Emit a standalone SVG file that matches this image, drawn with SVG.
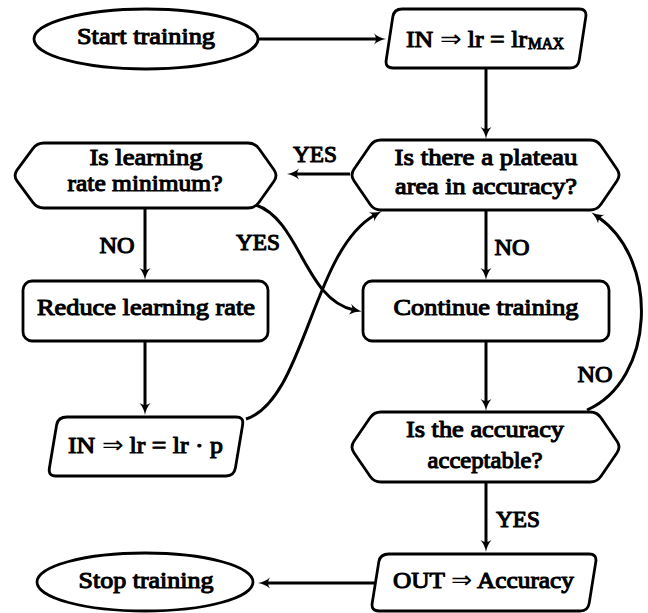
<svg xmlns="http://www.w3.org/2000/svg" width="648" height="613" viewBox="0 0 648 613">
<style>
.shape{fill:#fff;stroke:#000;stroke-width:2.8;stroke-linejoin:round}
.t{font-family:"Liberation Serif","Times New Roman",serif;font-weight:normal;font-size:24px;fill:#000;stroke:#000;stroke-width:1.1;stroke-linejoin:round;text-anchor:middle}
.s{text-anchor:start}
.lbl{font-family:"Liberation Serif","Times New Roman",serif;font-weight:normal;font-size:23px;fill:#000;stroke:#000;stroke-width:1.1;stroke-linejoin:round;text-anchor:middle}
.sym{stroke:none}
.c{fill:none;stroke:#000;stroke-width:3;marker-end:url(#ah)}
</style>
<defs>
<marker id="ah" viewBox="0 0 12 12" refX="4" refY="6" markerWidth="12" markerHeight="12" markerUnits="userSpaceOnUse" orient="auto">
<path d="M0,0.5 Q5,4.8 12,6 Q5,7.2 0,11.5 Q4,6 0,0.5 Z" fill="#000"/>
</marker>
</defs>
<rect width="648" height="613" fill="#fff"/>
<g id="connectors">
<path class="c" d="M258 39 H378"/>
<path class="c" d="M486 68 V131"/>
<path class="c" d="M350 174 H295"/>
<path class="c" d="M145 208 V272"/>
<path class="c" d="M486 210 V272"/>
<path class="c" d="M256 205 C300 220 305 300 354 310"/>
<path class="c" d="M145 341 V407"/>
<path class="c" d="M246 419 C305 400 312 250 375 215"/>
<path class="c" d="M486 341 V403"/>
<path class="c" d="M587 410 C655 380 660 260 598 217"/>
<path class="c" d="M486 482 V544"/>
<path class="c" d="M376 583 H266"/>
<text class="lbl" x="315" y="162" textLength="44" lengthAdjust="spacingAndGlyphs">YES</text>
<text class="lbl" x="117" y="253" textLength="35" lengthAdjust="spacingAndGlyphs">NO</text>
<text class="lbl" x="258" y="250" textLength="44" lengthAdjust="spacingAndGlyphs">YES</text>
<text class="lbl" x="512" y="255" textLength="35" lengthAdjust="spacingAndGlyphs">NO</text>
<text class="lbl" x="595" y="382" textLength="35" lengthAdjust="spacingAndGlyphs">NO</text>
<text class="lbl" x="518" y="527" textLength="44" lengthAdjust="spacingAndGlyphs">YES</text>
</g>
<g id="start">
<ellipse class="shape" cx="146" cy="39" rx="112" ry="30"/>
<text class="t" x="146" y="44" textLength="138" lengthAdjust="spacingAndGlyphs">Start training</text>
</g>
<g id="in-max">
<path class="shape" d="M402 9 L579 9 Q587 9 585.8 16.9 L579.2 60.1 Q578 68 570 68 L393 68 Q385 68 386.2 60.1 L392.8 16.9 Q394 9 402 9 Z"/>
<text class="t s" x="406" y="47" textLength="121" lengthAdjust="spacingAndGlyphs">IN <tspan class="sym">⇒</tspan> lr = lr</text>
<text class="t s" x="528" y="49" font-size="17" style="font-size:17px" textLength="36" lengthAdjust="spacingAndGlyphs">MAX</text>
</g>
<g id="lr-min">
<path class="shape" d="M17.16 169.87 L32.84 148.63 Q37 143 44 143 L248 143 Q255 143 259.05 148.71 L273.95 169.79 Q278 175.5 273.95 181.21 L259.05 202.29 Q255 208 248 208 L44 208 Q37 208 32.84 202.37 L17.16 181.13 Q13 175.5 17.16 169.87 Z"/>
<text class="t" x="146" y="165" textLength="113" lengthAdjust="spacingAndGlyphs">Is learning</text>
<text class="t" x="145" y="191" textLength="155" lengthAdjust="spacingAndGlyphs">rate minimum?</text>
</g>
<g id="plateau">
<path class="shape" d="M353.96 169.22 L370.04 145.78 Q374 140 381 140 L590 140 Q597 140 600.96 145.78 L617.04 169.22 Q621 175 617.04 180.78 L600.96 204.22 Q597 210 590 210 L381 210 Q374 210 370.04 204.22 L353.96 180.78 Q350 175 353.96 169.22 Z"/>
<text class="t" x="486" y="165" textLength="183" lengthAdjust="spacingAndGlyphs">Is there a plateau</text>
<text class="t" x="486" y="194" textLength="182" lengthAdjust="spacingAndGlyphs">area in accuracy?</text>
</g>
<g id="reduce">
<rect class="shape" x="23" y="281" width="245" height="60" rx="9"/>
<text class="t" x="146" y="315" textLength="218" lengthAdjust="spacingAndGlyphs">Reduce learning rate</text>
</g>
<g id="continue">
<rect class="shape" x="363" y="281" width="246" height="60" rx="9"/>
<text class="t" x="486" y="315" textLength="185" lengthAdjust="spacingAndGlyphs">Continue training</text>
</g>
<g id="in-p">
<path class="shape" d="M67 417 L236 417 Q244 417 242.6 424.9 L235.4 468.1 Q234 476 226 476 L56 476 Q48 476 49.4 468.1 L56.6 424.9 Q58 417 67 417 Z"/>
<text class="t s" x="68" y="453" textLength="155" lengthAdjust="spacingAndGlyphs">IN <tspan class="sym">⇒</tspan> lr = lr · p</text>
</g>
<g id="acceptable">
<path class="shape" d="M353.96 441.22 L370.04 417.78 Q374 412 381 412 L590 412 Q597 412 600.96 417.78 L617.04 441.22 Q621 447 617.04 452.78 L600.96 476.22 Q597 482 590 482 L381 482 Q374 482 370.04 476.22 L353.96 452.78 Q350 447 353.96 441.22 Z"/>
<text class="t" x="485" y="437" textLength="158" lengthAdjust="spacingAndGlyphs">Is the accuracy</text>
<text class="t" x="485" y="468" textLength="115" lengthAdjust="spacingAndGlyphs">acceptable?</text>
</g>
<g id="out">
<path class="shape" d="M389 554 L589 554 Q597 554 595.8 561.9 L589.2 603.1 Q588 611 580 611 L379 611 Q371 611 372.2 603.1 L378.8 561.9 Q380 554 389 554 Z"/>
<text class="t s" x="393" y="588" textLength="181" lengthAdjust="spacingAndGlyphs">OUT <tspan class="sym">⇒</tspan> Accuracy</text>
</g>
<g id="stop">
<ellipse class="shape" cx="145" cy="582" rx="108" ry="29"/>
<text class="t" x="146" y="588" textLength="135" lengthAdjust="spacingAndGlyphs">Stop training</text>
</g>
</svg>
